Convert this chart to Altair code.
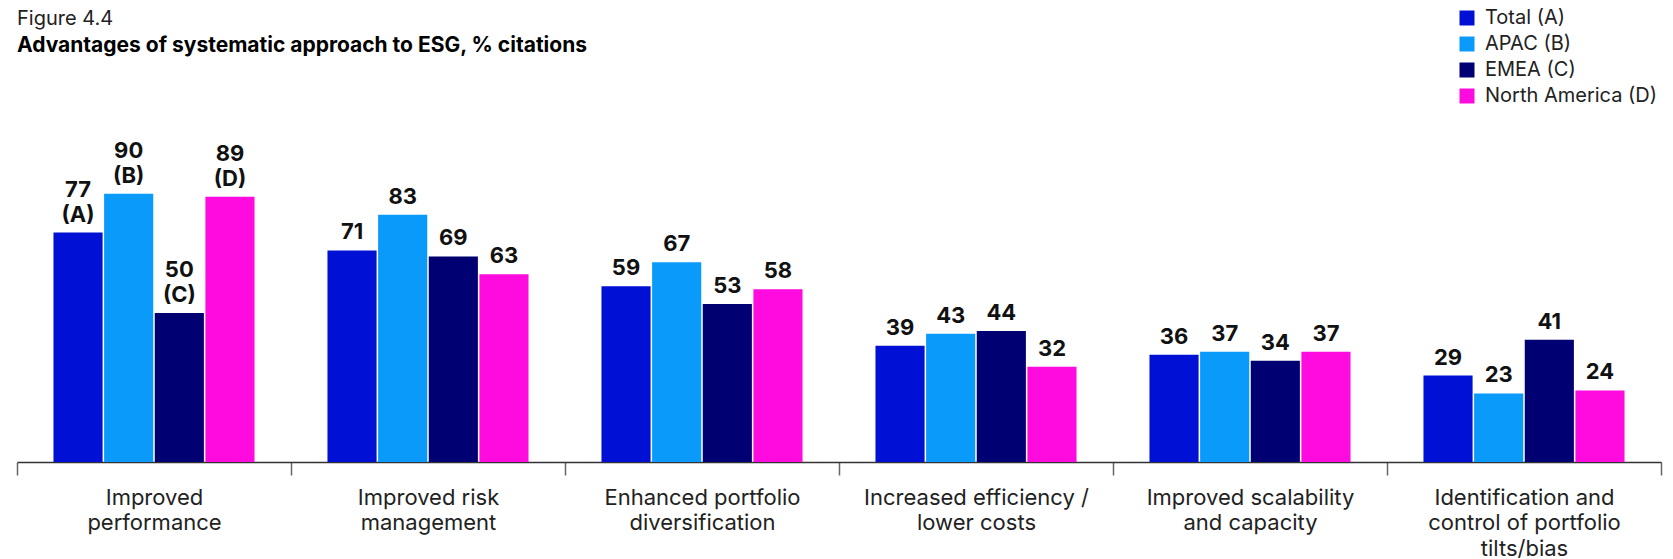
import altair as alt
import pandas as pd

categories = [
    "Improved|performance",
    "Improved risk|management",
    "Enhanced portfolio|diversification",
    "Increased efficiency /|lower costs",
    "Improved scalability|and capacity",
    "Identification and|control of portfolio|tilts/bias",
]
series = ["Total (A)", "APAC (B)", "EMEA (C)", "North America (D)"]
letters = ["(A)", "(B)", "(C)", "(D)"]
colors = ["#0010D4", "#0A9AF9", "#000072", "#FF0ADF"]

total = [77, 71, 59, 39, 36, 29]
apac = [90, 83, 67, 43, 37, 23]
emea = [50, 69, 53, 44, 34, 41]
north_america = [89, 63, 58, 32, 37, 24]

values = [total, apac, emea, north_america]
rows = []
for si, s in enumerate(series):
    for ci, c in enumerate(categories):
        rows.append({
            "category": c,
            "series": s,
            "value": values[si][ci],
            "letter": letters[si] if ci == 0 else "",
            "first": ci == 0,
        })
df = pd.DataFrame(rows)

FONT = "Inter"

x_enc = alt.X(
    "category:N",
    sort=categories,
    title=None,
    scale=alt.Scale(paddingInner=0, paddingOuter=0),
    axis=alt.Axis(
        labelExpr="split(datum.label, '|')",
        labelAngle=0,
        labelFont=FONT,
        labelFontSize=22,
        labelColor="#222222",
        labelLineHeight=25.5,
        labelPadding=12,
        labelBaseline="top",
        labelLimit=400,
        tickBand="extent",
        tickSize=13,
        tickColor="#666666",
        tickWidth=1.5,
        domainColor="#333333",
        domainWidth=1.5,
        grid=False,
    ),
)
xoff_enc = alt.XOffset(
    "series:N", sort=series, scale=alt.Scale(paddingInner=0.03, paddingOuter=0.72)
)
y_enc = alt.Y("value:Q", scale=alt.Scale(domain=[0, 100]), axis=None)

bars = alt.Chart(df).mark_bar().encode(
    x=x_enc,
    xOffset=xoff_enc,
    y=y_enc,
    color=alt.Color(
        "series:N",
        sort=series,
        scale=alt.Scale(domain=series, range=colors),
        legend=alt.Legend(
            title=None,
            orient="none",
            legendX=1440,
            legendY=-156,
            symbolType="square",
            symbolSize=225,
            symbolStrokeWidth=0,
            labelFont=FONT,
            labelFontSize=20,
            labelColor="#222222",
            labelOffset=8,
            labelLimit=400,
            rowPadding=6,
            padding=0,
        ),
    ),
)

text_style = dict(
    baseline="bottom",
    font=FONT,
    fontSize=22,
    fontWeight="bold",
    color="#111111",
)
x_plain = alt.X("category:N", sort=categories)

num_rest = alt.Chart(df).transform_filter("!datum.first").mark_text(
    dy=-6, **text_style
).encode(x=x_plain, xOffset=xoff_enc, y=y_enc, text="value:Q")

num_first = alt.Chart(df).transform_filter("datum.first").mark_text(
    dy=-31, **text_style
).encode(x=x_plain, xOffset=xoff_enc, y=y_enc, text="value:Q")

letter_first = alt.Chart(df).transform_filter("datum.first").mark_text(
    dy=-6, **text_style
).encode(x=x_plain, xOffset=xoff_enc, y=y_enc, text="letter:N")

chart = (
    alt.layer(bars, num_rest, num_first, letter_first)
    .properties(
        width=1644,
        height=298,
        autosize=alt.AutoSizeParams(type="none"),
        padding={"left": 9, "top": 156, "right": 4, "bottom": 96},
        title=alt.TitleParams(
            text="Figure 4.4",
            subtitle="Advantages of systematic approach to ESG, % citations",
            anchor="start",
            frame="group",
            font=FONT,
            fontSize=20,
            fontWeight="normal",
            color="#222222",
            subtitleFont=FONT,
            subtitleFontSize=21,
            subtitleFontWeight="bold",
            subtitleColor="#000000",
            subtitlePadding=6,
            offset=0,
            dy=48,
        ),
    )
    .configure_view(stroke=None)
)

chart.save("out.html", embed_options={"renderer": "svg", "actions": False})
